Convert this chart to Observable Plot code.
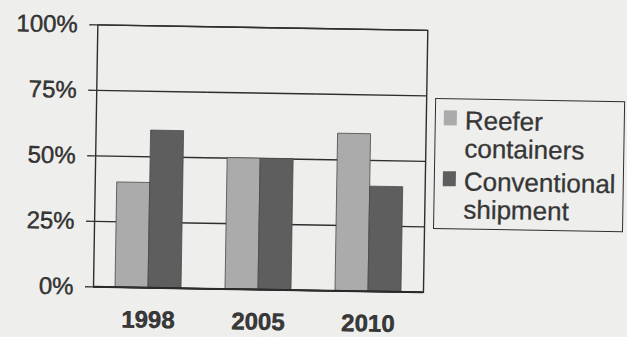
<!DOCTYPE html>
<html>
<head>
<meta charset="utf-8">
<script src="https://cdn.jsdelivr.net/npm/d3@7"></script>
<script src="https://cdn.jsdelivr.net/npm/@observablehq/plot@0.6"></script>
<style>
  html, body { margin: 0; padding: 0; background: #eeeeec; overflow: hidden; }
  #page {
    position: relative; width: 627px; height: 337px;
    background: #eeeeec;
    transform: rotate(0.95deg); transform-origin: 313px 168px;
    font-family: "Liberation Sans", Arial, sans-serif;
  }
  #page svg { position: absolute; left: 0; top: 0; }
  #page svg text { stroke: currentColor; stroke-width: 0.35px; }
  #legend {
    position: absolute; left: 434px; top: 96px; width: 190px; height: 131px;
    box-sizing: border-box; border: 1.5px solid #2e2e2e;
    padding: 7px 0 0 8px; color: #363636;
    -webkit-text-stroke: 0.3px #363636;
  }
  .entry { display: flex; align-items: flex-start; margin-bottom: 5px; }
  .swatch { width: 13px; height: 15px; margin-top: 4px; margin-right: 8px; flex: none; }
  .label { font-size: 26px; line-height: 28px; width: 165px; }
</style>
</head>
<body>
<div id="page"></div>
<script>
// Share of cargo carried, by year and mode (percent)
const years = ["1998", "2005", "2010"];
const seriesNames = ["Reefer containers", "Conventional shipment"];
const reeferShare = [40, 50, 60];
const conventionalShare = [60, 50, 40];
const yTicks = [0, 25, 50, 75, 100];
const seriesColors = ["#ababab", "#5e5e5e"];

const data = years.flatMap((year, i) => [
  {year, series: seriesNames[0], value: reeferShare[i]},
  {year, series: seriesNames[1], value: conventionalShare[i]}
]);

const ink = "#2e2e2e";

const chart = Plot.plot({
  width: 627,
  height: 337,
  marginLeft: 94,
  marginRight: 202,
  marginTop: 28,
  marginBottom: 47,
  style: {background: "transparent", fontFamily: "'Liberation Sans', Arial, sans-serif", overflow: "visible"},
  fx: {domain: years, padding: 0, label: null},
  x: {domain: seriesNames, axis: null, paddingInner: 0, paddingOuter: 0.62},
  y: {domain: [0, 100], label: null},
  color: {domain: seriesNames, range: seriesColors},
  marks: [
    Plot.ruleY(yTicks, {stroke: ink, strokeWidth: 1.4}),
    Plot.barY(data, {fx: "year", x: "series", y: "value", fill: "series", stroke: "#4a4a4a", strokeWidth: 0.8}),
    Plot.ruleY([0], {stroke: "#222", strokeWidth: 2}),
    Plot.frame({facet: "super", stroke: ink, strokeWidth: 1.4}),
    Plot.axisY(yTicks, {
      tickSize: 8, tickPadding: 12, tickFormat: d => d + "%",
      fontSize: 24, color: "#3b3b3b", strokeWidth: 1.4, label: null
    }),
    Plot.axisFx({
      anchor: "bottom", tickSize: 0, tickPadding: 23,
      fontSize: 24, fontWeight: "bold", color: "#3a3a3a", label: null
    })
  ]
});

const page = document.getElementById("page");
page.appendChild(chart);

// Legend box to the right of the plot
const legend = document.createElement("div");
legend.id = "legend";
seriesNames.forEach((name, i) => {
  const entry = document.createElement("div");
  entry.className = "entry";
  const sw = document.createElement("div");
  sw.className = "swatch";
  sw.style.background = seriesColors[i];
  const lab = document.createElement("div");
  lab.className = "label";
  lab.textContent = name;
  entry.appendChild(sw);
  entry.appendChild(lab);
  legend.appendChild(entry);
});
page.appendChild(legend);
</script>
</body>
</html>
